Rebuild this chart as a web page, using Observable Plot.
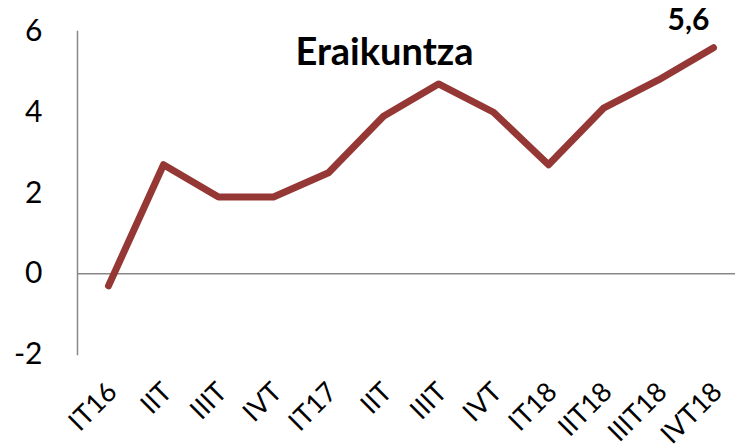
<!DOCTYPE html>
<html><head><meta charset="utf-8">
<script src="https://cdn.jsdelivr.net/npm/d3@7"></script>
<script src="https://cdn.jsdelivr.net/npm/@observablehq/plot@0.6"></script>
<style>
html,body{margin:0;padding:0;background:#fff;}
svg{font-family:Lato,"Open Sans",sans-serif;}
</style></head>
<body><div id="chart"></div>
<script>
const quarters = ["IT16","IIT","IIIT","IVT","IT17","IIT","IIIT","IVT","IT18","IIT18","IIIT18","IVT18"];
const values = [-0.3, 2.7, 1.9, 1.9, 2.5, 3.9, 4.7, 4.0, 2.7, 4.1, 4.8, 5.6];
const yTicks = [-2, 0, 2, 4, 6];
const title = "Eraikuntza";
const lastLabel = "5,6";

const data = values.map((v, i) => ({i, v}));
const idx = quarters.map((_, i) => i);

const chart = Plot.plot({
  width: 735,
  height: 446,
  marginLeft: 77,
  marginTop: 31,
  marginBottom: 92,
  marginRight: -8,
  style: {fontSize: "26px", color: "#000", background: "#fff", overflow: "hidden"},
  x: {type: "point", domain: idx, padding: 0.5, label: null},
  y: {domain: [-2, 6], label: null},
  marks: [
    Plot.ruleY([0], {stroke: "#888", strokeWidth: 1.5}),
    Plot.frame({anchor: "left", stroke: "#888", strokeWidth: 1.5}),
    Plot.axisY({ticks: yTicks, tickSize: 0, tickPadding: 35, fontSize: 30, tickFormat: d => String(d)}),
    Plot.axisX({ticks: idx, tickSize: 0, tickRotate: -45, tickPadding: 33, dx: 4, tickFormat: i => quarters[i], fontSize: 27}),
    Plot.line(data, {x: "i", y: "v", stroke: "#953735", strokeWidth: 7, strokeLinecap: "round"}),
    Plot.text([lastLabel], {x: () => 11, y: () => 5.6, text: d => d, dx: -25, dy: -27, fontWeight: "bold", fontSize: 30}),
    Plot.text([title], {frameAnchor: "top", text: d => d, dx: -26, dy: 7, fontWeight: "bold", fontSize: 38})
  ]
});
document.getElementById("chart").append(chart);
</script></body></html>
